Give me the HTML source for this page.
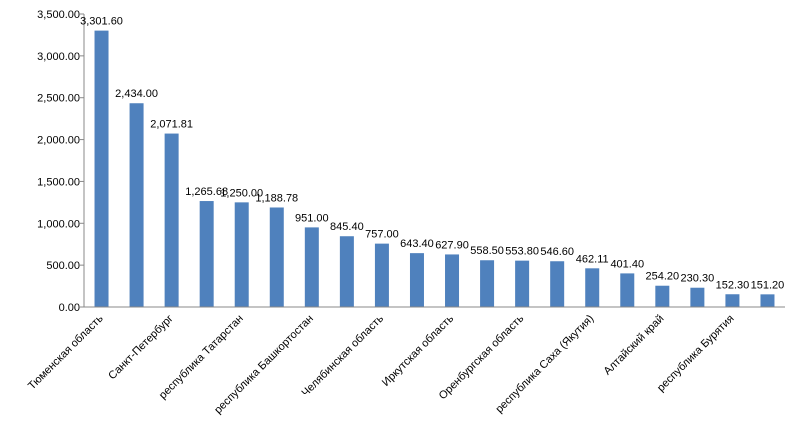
<!DOCTYPE html>
<html><head><meta charset="utf-8"><style>
body{margin:0;background:#fff;}
svg{display:block;font-family:"Liberation Sans","DejaVu Sans",sans-serif;}
</style></head><body>
<svg id="chart" width="800" height="436" viewBox="0 0 800 436" xmlns="http://www.w3.org/2000/svg"></svg>
<script>
const categories=["Тюменская область","Москва","Санкт-Петербург","Московская область","республика Татарстан","Краснодарский край","республика Башкортостан","Свердловская область","Челябинская область","Самарская область","Иркутская область","Новосибирская область","Оренбургская область","Ростовская область","республика Саха (Якутия)","Красноярский край","Алтайский край","Пермский край","республика Бурятия","Омская область"];
const values=[3301.60,2434.00,2071.81,1265.68,1250.00,1188.78,951.00,845.40,757.00,643.40,627.90,558.50,553.80,546.60,462.11,401.40,254.20,230.30,152.30,151.20];
const yTicks=[0,500,1000,1500,2000,2500,3000,3500];
const NS="http://www.w3.org/2000/svg";
const svg=document.getElementById('chart');
const x0=84,x1=785,y0=307,y1=14,yMax=3500;
const n=categories.length,step=(x1-x0)/n,bw=14;
const yS=v=>y0-(v/yMax)*(y0-y1);
const xC=i=>x0+step*(i+0.5);
function mk(t,a){const e=document.createElementNS(NS,t);for(const k in a)e.setAttribute(k,a[k]);svg.appendChild(e);return e;}
const fmt=v=>v.toLocaleString('en-US',{minimumFractionDigits:2,maximumFractionDigits:2});
yTicks.forEach(t=>{
  const tx=mk('text',{x:80,y:yS(t)+4,'text-anchor':'end','font-size':11,fill:'#000'});
  
  
  tx.textContent=fmt(t);
  const tk=mk('line',{x1:x0-4,x2:x0,y1:yS(t),y2:yS(t),stroke:'#888'});
  
  
});
const ya=mk('line',{x1:x0,x2:x0,y1:y1,y2:y0,stroke:'#888'});


values.forEach((v,i)=>{
  const r=mk('rect',{x:xC(i)-bw/2,y:yS(v),width:bw,height:y0-yS(v),fill:'#4f81bd'});
  
  
  const l=mk('text',{x:xC(i),y:yS(v)-6,'text-anchor':'middle','font-size':11,fill:'#000'});
  
  
  l.textContent=fmt(v);
  if(i%2===0){
    const c=mk('text',{x:xC(i)+2,y:y0+12,'text-anchor':'end','font-size':11,fill:'#000',transform:`rotate(-45 ${xC(i)+2} ${y0+12})`});
    
    
    c.textContent=categories[i];
  }
});
const xa=mk('line',{x1:x0,x2:x1,y1:y0,y2:y0,stroke:'#888'});


</script>
</body></html>
